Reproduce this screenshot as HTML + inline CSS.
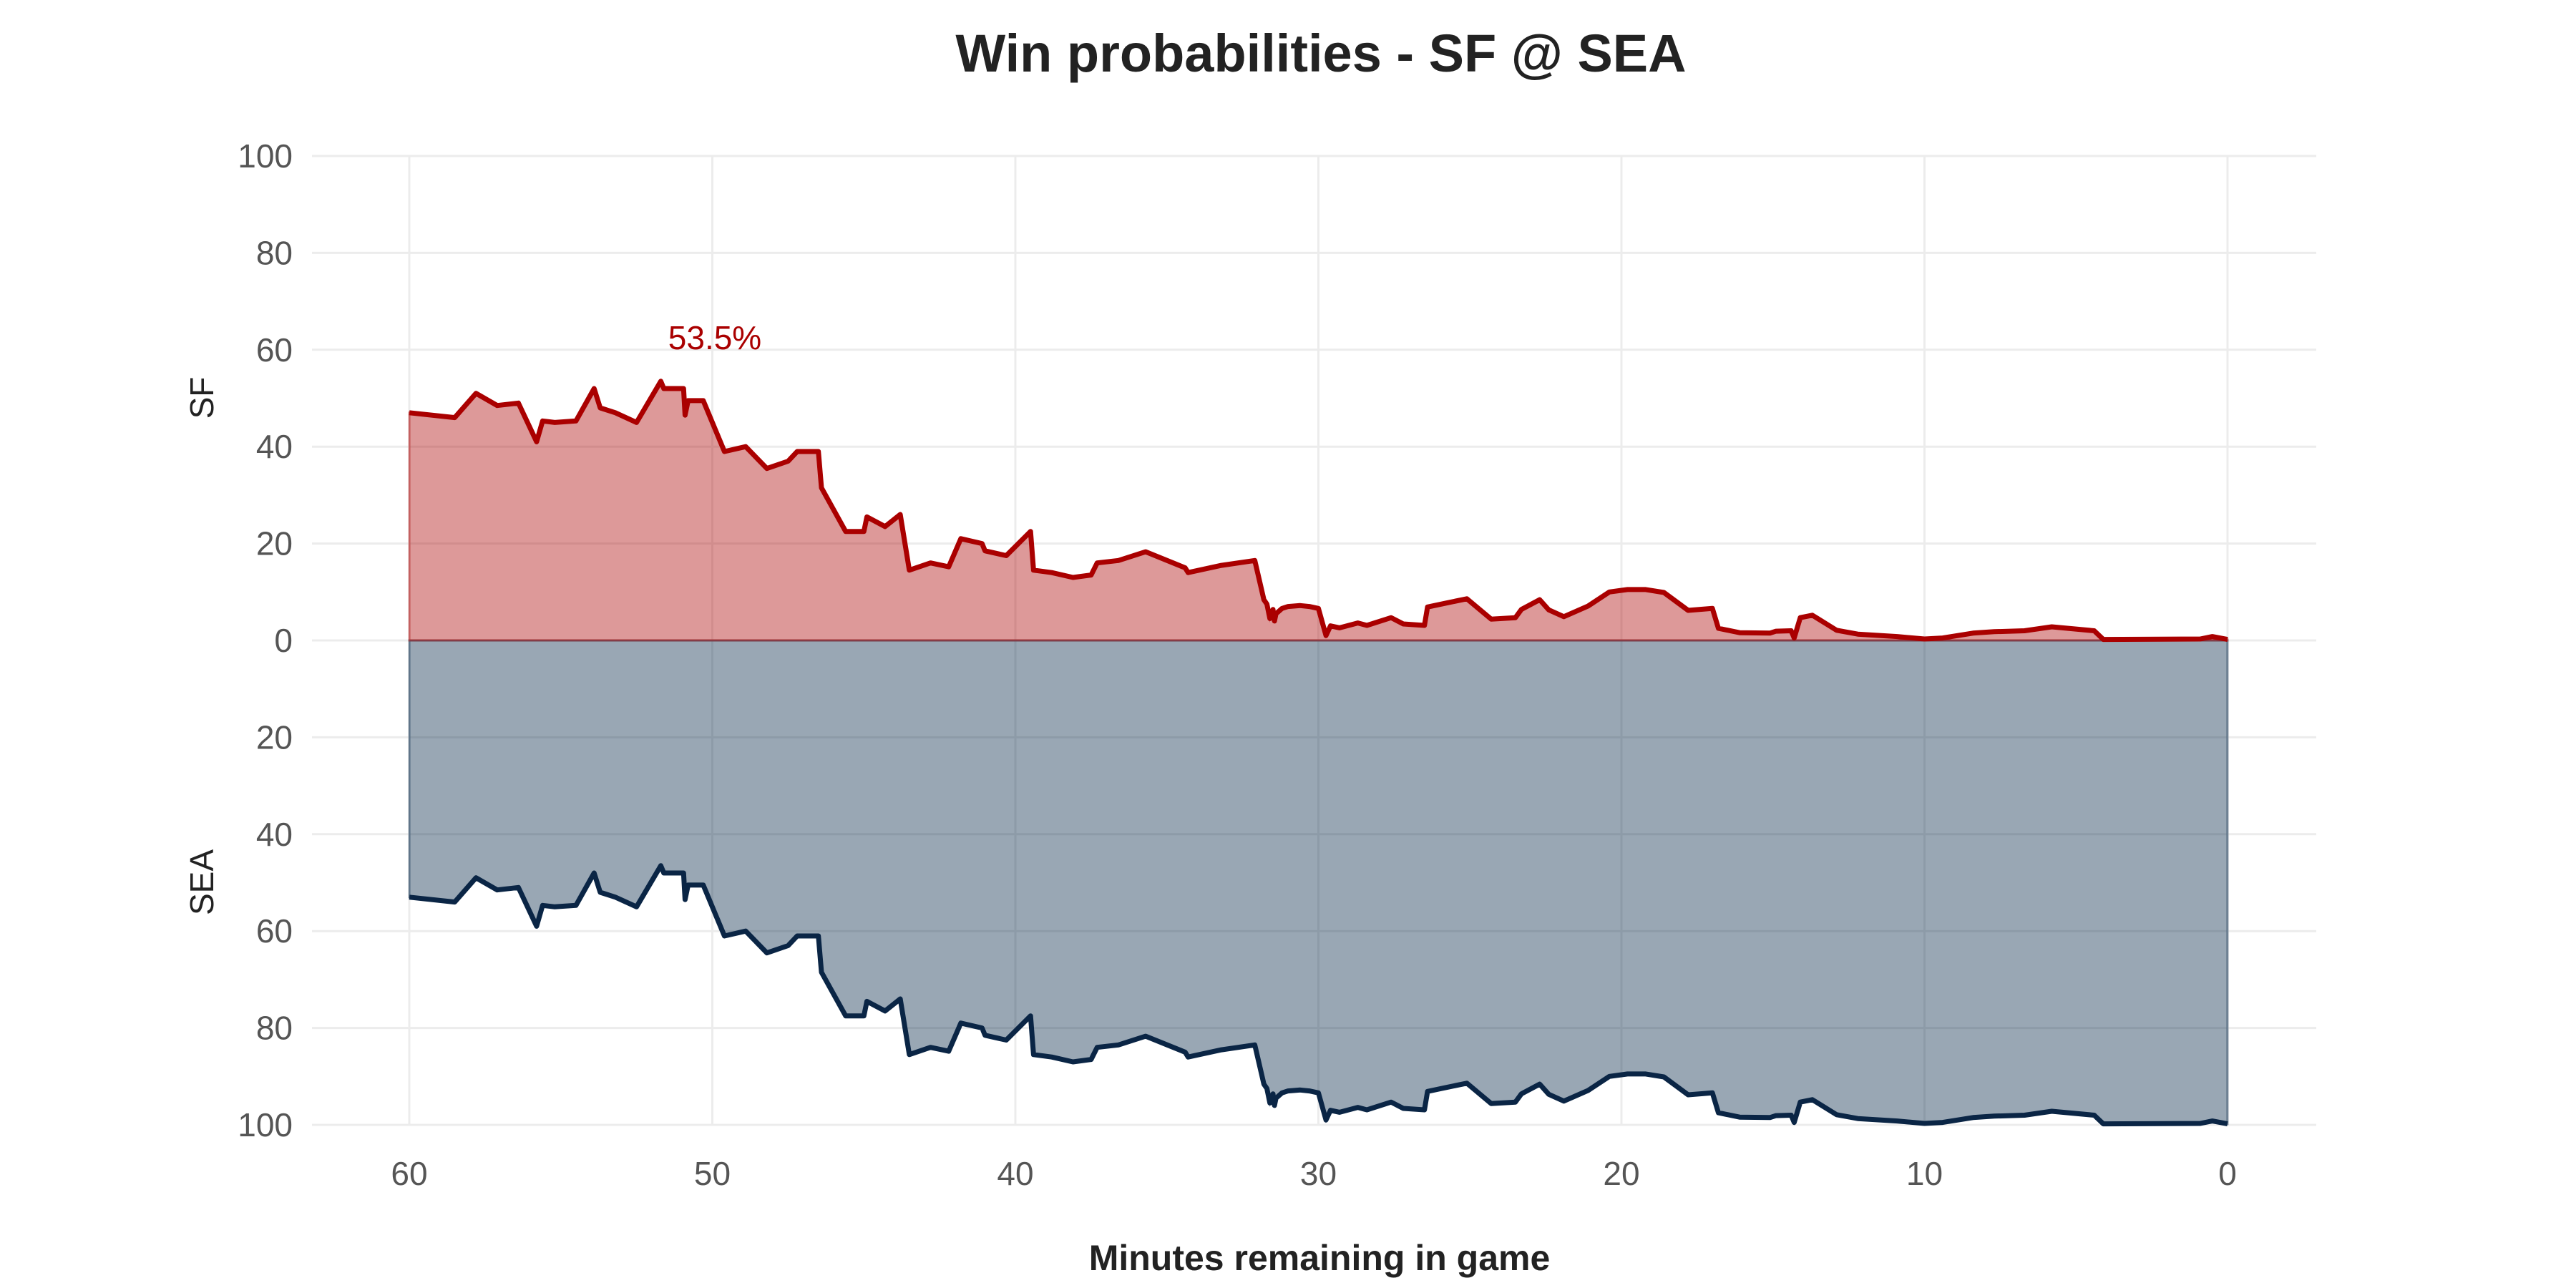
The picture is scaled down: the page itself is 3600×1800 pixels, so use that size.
<!DOCTYPE html>
<html><head><meta charset="utf-8"><style>
html,body{margin:0;padding:0;background:#fff;}
svg{display:block;}
</style></head><body>
<svg id="chart" width="3600" height="1800" viewBox="0 0 3600 1800" xmlns="http://www.w3.org/2000/svg">
<text x="1846" y="100" text-anchor="middle" font-family="Liberation Sans, sans-serif" font-weight="bold" font-size="74" fill="#222">Win probabilities - SF @ SEA</text>
<g id="grid"></g>
<g id="areas"></g>
<g id="axes"></g>
<text x="1844" y="1775" text-anchor="middle" font-family="Liberation Sans, sans-serif" font-weight="bold" font-size="50" fill="#222">Minutes remaining in game</text>
<text transform="translate(298,556) rotate(-90)" text-anchor="middle" font-family="Liberation Sans, sans-serif" font-size="46" fill="#222">SF</text>
<text transform="translate(298,1233) rotate(-90)" text-anchor="middle" font-family="Liberation Sans, sans-serif" font-size="46" fill="#222">SEA</text>
</svg>
<script>
const minutes = [60,58.5,57.8,57.1,56.4,55.8,55.6,55.2,54.5,53.9,53.7,53.2,52.5,51.7,51.6,50.95,50.9,50.8,50.3,49.6,48.9,48.2,47.5,47.2,46.5,46.4,45.6,45.0,44.9,44.3,43.8,43.5,42.8,42.2,41.8,41.1,41.0,40.3,39.5,39.4,38.8,38.1,37.5,37.3,36.6,35.7,34.4,34.3,33.2,32.1,31.8,31.7,31.6,31.5,31.45,31.4,31.2,31.0,30.6,30.3,30.0,29.75,29.6,29.3,28.7,28.4,27.6,27.2,26.5,26.4,25.8,25.1,24.3,23.5,23.3,22.7,22.4,21.9,21.1,20.4,19.8,19.2,18.6,17.8,17.0,16.8,16.1,15.1,14.9,14.4,14.3,14.1,13.7,12.9,12.2,10.9,10.0,9.4,8.4,7.7,6.7,5.8,4.4,4.1,0.9,0.5,0];
const sfProb = [47,46,51,48.5,49,41,45.3,45,45.3,52,48,47,45,53.5,52,52,46.5,49.5,49.5,39,40,35.5,37,39,39,31.5,22.5,22.5,25.5,23.5,26,14.5,16,15.2,21,20,18.5,17.5,22.5,14.5,14,13,13.5,16,16.5,18.3,15,14,15.5,16.5,8.4,7.5,4.5,6.4,4,5.5,6.6,7.0,7.2,7.0,6.6,1,3,2.6,3.6,3.1,4.7,3.4,3.1,6.9,7.7,8.6,4.4,4.7,6.4,8.4,6.3,4.9,7.1,10,10.5,10.5,9.9,6.2,6.6,2.5,1.6,1.5,1.9,2.0,0.5,4.7,5.2,2.1,1.3,0.8,0.3,0.5,1.5,1.8,2.0,2.8,2.0,0.2,0.3,0.8,0.2];
const xTicks = [60,50,40,30,20,10,0];
const yTicks = [100,80,60,40,20,0,-20,-40,-60,-80,-100];
const peakLabel = "53.5%";

const NS = "http://www.w3.org/2000/svg";
const X = m => 3113 - (m/60)*(3113-572);
const Y = v => 895 - v*6.77;
function mk(tag, attrs, parent){const e=document.createElementNS(NS,tag);for(const k in attrs)e.setAttribute(k,attrs[k]);parent.appendChild(e);return e;}
const grid=document.getElementById('grid'), areas=document.getElementById('areas'), axes=document.getElementById('axes');

yTicks.forEach(t=>{
  const l=mk('line',{x1:436,x2:3237,y1:Y(t),y2:Y(t),stroke:'#ececec','stroke-width':3},grid);
  
  
  const tx=mk('text',{x:409,y:Y(t)+16,'text-anchor':'end','font-family':'Liberation Sans, sans-serif','font-size':46,fill:'#555'},axes);
  tx.textContent=Math.abs(t);
  
  
});
xTicks.forEach(t=>{
  const l=mk('line',{x1:X(t),x2:X(t),y1:Y(100),y2:Y(-100),stroke:'#ececec','stroke-width':3},grid);
  
  
  const tx=mk('text',{x:X(t),y:1656,'text-anchor':'middle','font-family':'Liberation Sans, sans-serif','font-size':46,fill:'#555'},axes);
  tx.textContent=t;
  
  
});

const sfPts = minutes.map((m,i)=>X(m).toFixed(1)+','+Y(sfProb[i]).toFixed(1));
const seaPts = minutes.map((m,i)=>X(m).toFixed(1)+','+Y(-(100-sfProb[i])).toFixed(1));
const x0=X(minutes[0]), x1=X(minutes[minutes.length-1]);

const seaArea=mk('path',{d:'M'+x0+','+Y(0)+' L'+seaPts.join(' L')+' L'+x1+','+Y(0)+' Z',fill:'#002244','fill-opacity':0.4,stroke:'#002244','stroke-opacity':0.4,'stroke-width':3},areas);


const sfArea=mk('path',{d:'M'+x0+','+Y(0)+' L'+sfPts.join(' L')+' L'+x1+','+Y(0)+' Z',fill:'#aa0000','fill-opacity':0.4,stroke:'#aa0000','stroke-opacity':0.4,'stroke-width':3},areas);


const seaLine=mk('polyline',{points:seaPts.join(' '),fill:'none',stroke:'#0a2545','stroke-width':7,'stroke-linejoin':'round'},areas);


const sfLine=mk('polyline',{points:sfPts.join(' '),fill:'none',stroke:'#aa0000','stroke-width':7,'stroke-linejoin':'round'},areas);



let pi=0; sfProb.forEach((v,i)=>{if(v>sfProb[pi])pi=i;});
const ann=mk('text',{x:X(minutes[pi])+.0+ (999-X(51.7)),y:Y(sfProb[pi])-45,'text-anchor':'middle','font-family':'Liberation Sans, sans-serif','font-size':46,fill:'#aa0000'},areas);
ann.textContent=peakLabel;


</script>
</body></html>
